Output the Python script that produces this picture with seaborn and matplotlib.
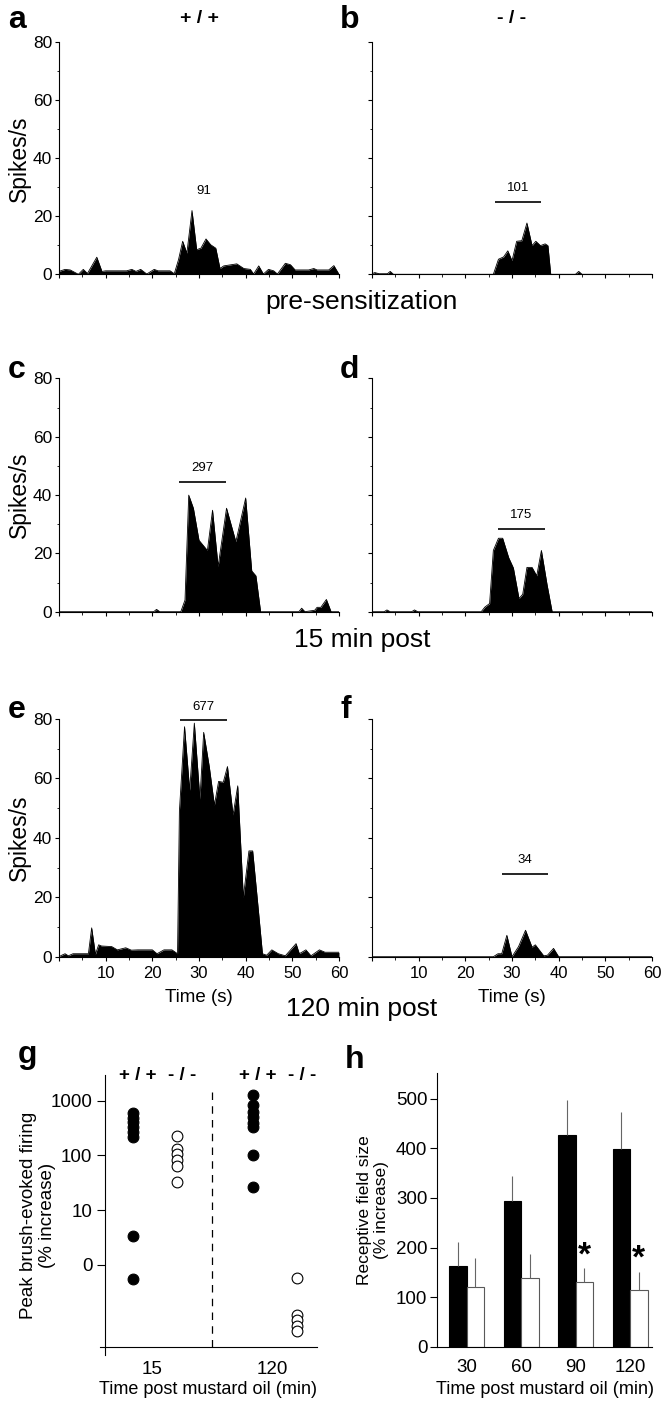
import numpy as np
import pandas as pd
import matplotlib
matplotlib.use('Agg')
import matplotlib.pyplot as plt
from matplotlib.ticker import MultipleLocator, FixedLocator, NullLocator, FuncFormatter
import seaborn as sns

# ---------------- PSTH data (time s, spikes/s) ----------------
# a: +/+ pre-sensitization
a_t = [0.0, 1.3, 2.4, 4.15, 5.2, 6.1, 8.1, 9.2, 10.0, 14.5, 15.6, 16.5, 17.5, 18.8, 20.4, 21.2,
       23.8, 24.7, 25.6, 26.5, 27.4, 28.5, 29.5, 30.4, 31.5, 32.5, 33.6, 34.5, 35.3, 38.1, 39.6,
       41.0, 41.7, 42.8, 43.8, 44.9, 46.0, 46.8, 48.5, 49.6, 50.6, 53.5, 54.6, 55.3, 57.8, 58.9, 60.0]
a_r = [1.0, 1.7, 1.5, 0.0, 1.7, 0.3, 5.9, 1.0, 1.2, 1.2, 1.7, 1.0, 1.7, 0.1, 1.7, 1.2,
       1.2, 0.2, 5.0, 11.4, 7.3, 22.0, 8.5, 9.0, 12.2, 10.2, 9.0, 2.0, 2.9, 3.6, 2.0,
       1.7, 0.1, 2.9, 0.1, 1.7, 1.2, 0.1, 3.8, 3.3, 1.5, 1.5, 2.0, 1.5, 1.5, 3.0, 0.0]

# b: -/- pre-sensitization
b_t = [0.0, 0.6, 1.5, 3.3, 3.9, 4.6, 26.0, 27.1, 28.2, 29.1, 30.0, 31.0, 32.1, 33.2, 34.3,
       35.1, 36.1, 37.1, 37.7, 38.3, 43.6, 44.3, 45.0, 60.0]
b_r = [0.2, 0.6, 0.2, 0.2, 1.0, 0.0, 0.0, 5.2, 6.0, 8.1, 4.7, 11.4, 11.6, 17.7, 9.9,
       11.4, 9.9, 10.5, 9.9, 0.0, 0.0, 1.0, 0.0, 0.0]

# c: +/+ 15 min post
c_t = [0.0, 20.3, 20.9, 21.6, 26.1, 27.0, 27.8, 28.8, 30.0, 31.8, 32.9, 34.1, 35.9, 37.9,
       40.0, 41.3, 42.2, 43.2, 51.4, 52.0, 52.7, 54.8, 55.3, 56.1, 57.3, 58.3, 60.0]
c_r = [0.0, 0.0, 0.8, 0.0, 0.0, 4.0, 40.0, 35.5, 24.5, 21.0, 34.8, 15.5, 35.5, 24.0,
       39.0, 14.0, 12.3, 0.0, 0.0, 1.2, 0.0, 0.5, 1.5, 1.5, 4.2, 0.0, 0.0]

# d: -/- 15 min post
d_t = [0.0, 2.6, 3.2, 3.9, 8.5, 9.1, 9.8, 23.4, 24.2, 25.2, 26.0, 27.1, 28.0, 29.3, 30.3,
       31.5, 32.3, 33.2, 34.3, 35.3, 36.3, 37.5, 38.6, 60.0]
d_r = [0.0, 0.0, 0.6, 0.0, 0.0, 0.6, 0.0, 0.0, 1.6, 2.8, 21.0, 25.2, 25.2, 18.5, 15.0,
       4.5, 6.0, 15.2, 15.2, 12.3, 21.0, 9.4, 0.0, 0.0]

# e: +/+ 120 min post
e_t = [0.0, 0.6, 1.3, 2.0, 3.0, 4.5, 6.3, 7.0, 7.8, 8.5, 9.1, 11.3, 12.5, 14.3, 15.5, 16.9,
       20.0, 21.0, 22.5, 24.2, 25.4, 25.8, 26.9, 28.0, 29.0, 30.2, 31.0, 32.2, 33.3, 34.2,
       35.2, 36.1, 37.3, 38.3, 39.5, 40.7, 41.5, 42.7, 43.6, 44.5, 45.6, 47.0, 48.5, 50.8,
       51.5, 52.9, 54.0, 55.8, 57.0, 60.0]
e_r = [0.0, 0.5, 1.0, 0.3, 1.0, 1.0, 1.0, 9.7, 0.8, 4.0, 3.6, 3.4, 2.3, 3.0, 2.2, 2.3,
       2.3, 1.0, 2.3, 2.3, 1.0, 49.0, 77.4, 56.0, 78.6, 53.0, 75.5, 64.0, 51.0, 59.0,
       58.7, 64.0, 47.7, 57.5, 20.0, 35.6, 35.6, 16.0, 1.0, 0.5, 2.3, 1.0, 0.3, 4.4,
       1.0, 2.3, 0.3, 2.3, 1.5, 1.5]

# f: -/- 120 min post
f_t = [0.0, 26.0, 27.0, 27.8, 28.9, 30.0, 31.4, 32.9, 34.3, 35.0, 36.8, 37.6, 38.9, 40.0, 60.0]
f_r = [0.0, 0.0, 1.0, 1.0, 7.2, 0.0, 3.4, 8.9, 3.2, 4.0, 0.3, 0.5, 2.8, 0.0, 0.0]

# spike counts during brushing and brush window (start s, end s, level spikes/s)
counts = ['91', '101', '297', '175', '677', '34']
windows = [(26.0, 36.0, 24.0), (26.4, 36.3, 25.0), (25.8, 35.8, 44.5),
           (27.0, 37.1, 28.5), (26.0, 36.0, 79.5), (27.8, 37.8, 28.0)]
window_drawn = [False, True, True, True, True, True]

# ---------------- g: peak brush-evoked firing (% increase) ----------------
g_times = ['15', '120']
g_wt_15 = [590, 480, 400, 330, 270, 215, 5.2, -2.7]
g_ko_15 = [225, 129, 105, 82, 63, 32]
g_wt_120 = [1260, 830, 630, 495, 395, 333, 100, 26]
g_ko_120 = [-2.4, -9.1, -10.3, -13, -16]

# ---------------- h: receptive field size (% increase) ----------------
h_times = ['30', '60', '90', '120']
h_wt_mean = [163, 293, 427, 398]
h_wt_sem = [49, 52, 71, 76]
h_ko_mean = [121, 139, 130, 114]
h_ko_sem = [58, 48, 28, 37]
h_signif = [False, False, True, True]

# ---------------- figure ----------------
W, H = 662, 1402


def frame(left, right, top, bottom):
    return [left / W, 1 - bottom / H, (right - left) / W, (bottom - top) / H]


sns.set_theme(style='ticks')
plt.rcParams['font.family'] = ['Liberation Sans', 'DejaVu Sans']
plt.rcParams['axes.linewidth'] = 0.8
plt.rcParams['axes.edgecolor'] = 'black'
plt.rcParams['axes.labelcolor'] = 'black'
plt.rcParams['text.color'] = 'black'
plt.rcParams['xtick.color'] = 'black'
plt.rcParams['ytick.color'] = 'black'

fig = plt.figure(figsize=(W / 100, H / 100), dpi=100)
fig.patch.set_facecolor('white')

rows_px = [(42.5, 274.3), (378.5, 611.7), (719.0, 956.7)]
cols_px = [(59, 339), (372, 652)]
psth = [(a_t, a_r), (b_t, b_r), (c_t, c_r), (d_t, d_r), (e_t, e_r), (f_t, f_r)]

for i, (t, r) in enumerate(psth):
    row, col = divmod(i, 2)
    top, bottom = rows_px[row]
    left, right = cols_px[col]
    ax = fig.add_axes(frame(left, right, top, bottom))
    df = pd.DataFrame({'time': t, 'rate': r})
    sns.lineplot(data=df, x='time', y='rate', color='black', linewidth=0.6, ax=ax)
    ax.fill_between(df['time'], df['rate'], 0, color='black', linewidth=0)
    ax.set_xlim(0, 60)
    ax.set_ylim(0, 80)
    sns.despine(ax=ax)
    ax.xaxis.set_major_locator(MultipleLocator(10))
    ax.xaxis.set_minor_locator(MultipleLocator(5))
    ax.yaxis.set_major_locator(MultipleLocator(20))
    ax.yaxis.set_minor_locator(MultipleLocator(10))
    ax.tick_params(which='major', direction='out', length=3, width=0.8, labelsize=12.5, pad=2)
    ax.tick_params(which='minor', direction='out', length=1.8, width=0.6)
    ax.set_xlabel('')
    ax.set_ylabel('')

    if col == 0:
        ax.set_ylabel('Spikes/s', fontsize=16.5)
        ax.yaxis.label.set_va('center')
        ax.yaxis.set_label_coords((19 - left) / (right - left), 0.5)
    else:
        ax.tick_params(axis='y', labelleft=False)

    if row == 2:
        ax.xaxis.set_major_formatter(FuncFormatter(lambda v, p: '' if v == 0 else f'{v:.0f}'))
        ax.tick_params(axis='x', labelsize=12, pad=4)
        ax.set_xlabel('Time (s)', fontsize=13.5)
        ax.xaxis.label.set_va('center')
        ax.xaxis.set_label_coords(0.5, (bottom - 997) / (bottom - top))
    else:
        ax.tick_params(axis='x', labelbottom=False)

    t0, t1, level = windows[i]
    if window_drawn[i]:
        ax.hlines(level, t0, t1, color='black', linewidth=1.2, clip_on=False)
    ax.annotate(counts[i], xy=((t0 + t1) / 2, level), xytext=(0, 10),
                textcoords='offset points', ha='center', va='center',
                fontsize=9.5, annotation_clip=False)

    letter = 'abcdef'[i]
    base_y = [28, 378, 718][row]
    fig.text([8, 340][col] / W, 1 - base_y / H, letter, fontsize=23,
             fontweight='bold', ha='left', va='baseline')

    if row == 0:
        ax.text(0.5, 1 + (top - 19) / (bottom - top), ['+ / +', '- / -'][col],
                transform=ax.transAxes, ha='center', va='center',
                fontsize=14, fontweight='bold')

for label, yc in [('pre-sensitization', 302), ('15 min post', 640), ('120 min post', 1009)]:
    fig.text(362 / W, 1 - yc / H, label, fontsize=19, ha='center', va='center')

# ---------------- panel g ----------------
g_left, g_right, g_top, g_bottom = 100, 317, 1075, 1355
axg = fig.add_axes(frame(g_left, g_right, g_top, g_bottom))
records = []
for time, geno, vals in [('15', '+/+', g_wt_15), ('15', '-/-', g_ko_15),
                         ('120', '+/+', g_wt_120), ('120', '-/-', g_ko_120)]:
    for v in vals:
        records.append((time, geno, v))
gdf = pd.DataFrame(records, columns=['time', 'genotype', 'value'])
shift = {'+/+': -0.16, '-/-': 0.21}
gdf['xpos'] = gdf['time'].map({t: k for k, t in enumerate(g_times)}) + gdf['genotype'].map(shift)

axg.set_yscale('symlog', linthresh=10, linscale=0.9)
sns.scatterplot(data=gdf[gdf['genotype'] == '+/+'], x='xpos', y='value', color='black',
                edgecolor='black', linewidth=0.8, s=60, ax=axg, zorder=3)
sns.scatterplot(data=gdf[gdf['genotype'] == '-/-'], x='xpos', y='value', color='white',
                edgecolor='black', linewidth=0.8, s=60, ax=axg, zorder=3)
axg.set_xlim((g_left - 152) / 120, (g_right - 152) / 120)
axg.set_ylim(-44.7, 2940)
axg.spines['top'].set_visible(False)
axg.spines['right'].set_visible(False)
axg.spines['left'].set_position(('axes', 5 / (g_right - g_left)))
axg.spines['bottom'].set_position(('data', -32))
axg.yaxis.set_major_locator(FixedLocator([0, 10, 100, 1000]))
axg.yaxis.set_minor_locator(NullLocator())
axg.set_yticklabels(['0', '10', '100', '1000'])
axg.set_xticks(range(len(g_times)))
axg.set_xticklabels(g_times)
axg.tick_params(axis='y', direction='out', length=6, width=0.8, labelsize=13.5, pad=3)
axg.tick_params(axis='x', length=0, labelsize=13.5, pad=10)
axg.axvline(0.5, ymin=8 / 280, ymax=267 / 280, color='black', linewidth=0.9,
            linestyle=(0, (6, 5)))
for k, time in enumerate(g_times):
    for geno in ['+/+', '-/-']:
        axg.text(k + shift[geno] + 0.04, 1.0, geno.replace('/', ' / '),
                 transform=axg.get_xaxis_transform(), ha='center', va='center',
                 fontsize=13.5, fontweight='bold')
axg.set_xlabel('Time post mustard oil (min)', fontsize=13)
axg.xaxis.label.set_va('center')
axg.xaxis.set_label_coords(0.5, (g_bottom - 1390) / (g_bottom - g_top))
axg.set_ylabel('Peak brush-evoked firing\n(% increase)', fontsize=13.5, linespacing=1.15)
axg.yaxis.label.set_va('center')
axg.yaxis.set_label_coords((38 - g_left) / (g_right - g_left), 0.5)
fig.text(18 / W, 1 - 1063 / H, 'g', fontsize=23, fontweight='bold', ha='left', va='baseline')

# ---------------- panel h ----------------
h_left, h_right, h_top, h_bottom = 437, 652, 1073, 1346.7
axh = fig.add_axes(frame(h_left, h_right, h_top, h_bottom))
hdf = pd.DataFrame({
    'time': h_times * 2,
    'genotype': ['+/+'] * len(h_times) + ['-/-'] * len(h_times),
    'value': h_wt_mean + h_ko_mean,
})
sns.barplot(data=hdf, x='time', y='value', hue='genotype', order=h_times,
            hue_order=['+/+', '-/-'], palette={'+/+': 'black', '-/-': 'white'},
            width=0.64, gap=0, errorbar=None, legend=False, linewidth=0.8,
            edgecolor='black', ax=axh)
for bar in axh.containers[1]:
    bar.set_edgecolor('0.35')
for container, sems in zip(axh.containers, [h_wt_sem, h_ko_sem]):
    for bar, sem in zip(container, sems):
        xc = bar.get_x() + bar.get_width() / 2
        top = bar.get_height()
        axh.vlines(xc, top, top + sem, color='0.4', linewidth=0.8, zorder=1)
for bar, sem, sig in zip(axh.containers[1], h_ko_sem, h_signif):
    if sig:
        axh.text(bar.get_x() + bar.get_width() / 2, bar.get_height() + sem - 6, '*',
                 ha='center', va='bottom', fontsize=24, fontweight='bold')
axh.set_xlim(-0.545, 3.4)
axh.set_ylim(0, 552)
sns.despine(ax=axh)
axh.yaxis.set_major_locator(MultipleLocator(100))
axh.tick_params(axis='y', direction='out', length=5, width=0.8, labelsize=13.5, pad=2)
axh.tick_params(axis='x', length=0, labelsize=13.5, pad=9)
axh.set_xlabel('Time post mustard oil (min)', fontsize=13)
axh.xaxis.label.set_va('center')
axh.xaxis.set_label_coords(0.5, (h_bottom - 1390) / (h_bottom - h_top))
axh.set_ylabel('Receptive field size\n(% increase)', fontsize=12.5, linespacing=1.15)
axh.yaxis.label.set_va('center')
axh.yaxis.set_label_coords((373 - h_left) / (h_right - h_left), 0.5)
fig.text(345 / W, 1 - 1068 / H, 'h', fontsize=23, fontweight='bold', ha='left', va='baseline')

fig.savefig('out.png', dpi=100, facecolor='white')
